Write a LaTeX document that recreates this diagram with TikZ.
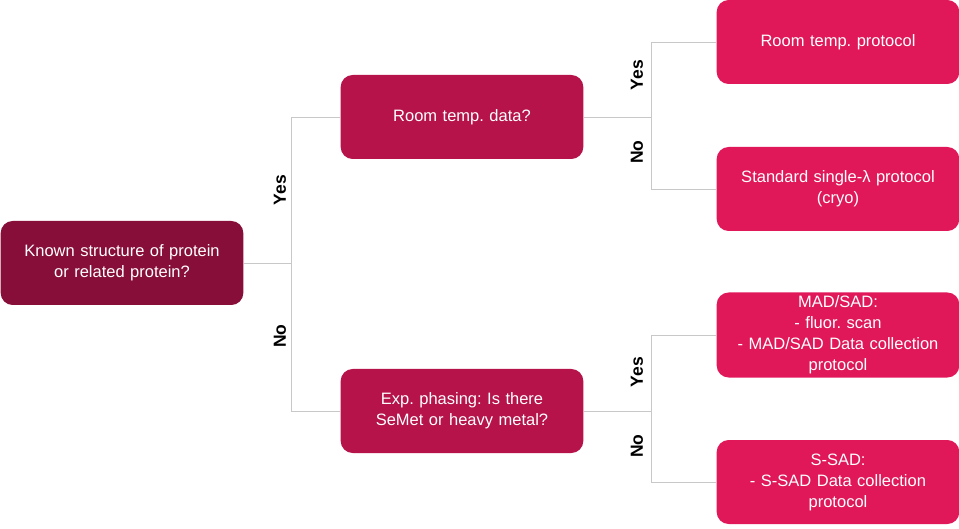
\documentclass[tikz,border=0pt]{standalone}
\usepackage{fontspec}
\setmainfont{Liberation Sans}
\usepackage{tikz}
\usetikzlibrary{positioning}
\frenchspacing

\definecolor{rootred}{HTML}{870E38}
\definecolor{midred}{HTML}{B5134A}
\definecolor{leafred}{HTML}{E0185A}
\definecolor{linegray}{HTML}{C8C8C8}

\tikzset{
    box/.style={rounded corners=12pt, minimum width=242pt, minimum height=84pt,
        text width=236pt, align=center, text=white, font=\fontsize{16.5}{21}\selectfont},
    link/.style={draw=linegray, line width=0.8pt},
    answer/.style={rotate=90, font=\bfseries\fontsize{17.5}{20}\selectfont}
}

\begin{document}
\begin{tikzpicture}[x=1pt, y=-1pt]
        \useasboundingbox (0,0) rectangle (959,529);

        \node[box, fill=rootred] (root) at (122,263) {Known structure of protein\\or related protein?};
        \node[box, fill=midred] (roomq) at (462,117) {Room temp. data?};
        \node[box, fill=midred] (phaseq) at (462,411) {Exp. phasing: Is there\\SeMet or heavy metal?};
        \node[box, fill=leafred] (roomp) at (838,42) {Room temp. protocol};
        \node[box, fill=leafred] (cryo) at (838,189) {Standard single-λ protocol\\(cryo)};
        \node[box, fill=leafred] (mad) at (838,335) {MAD/SAD:\\- fluor. scan\\- MAD/SAD Data collection\\protocol};
        \node[box, fill=leafred] (ssad) at (838,482) {S-SAD:\\- S-SAD Data collection\\protocol};

        \coordinate (split1) at (291,263);
        \coordinate (split2) at (651,117);
        \coordinate (split3) at (651,411);

        \draw[link] (root.east) -- (split1);
        \draw[link] (split1) |- (roomq.west);
        \draw[link] (split1) |- (phaseq.west);
        \draw[link] (roomq.east) -- (split2);
        \draw[link] (split2) |- (roomp.west);
        \draw[link] (split2) |- (cryo.west);
        \draw[link] (phaseq.east) -- (split3);
        \draw[link] (split3) |- (mad.west);
        \draw[link] (split3) |- (ssad.west);

        \node[answer] (yes1) at (280,190) {Yes};
        \node[answer] (no1) at (280,336) {No};
        \node[answer] (yes2) at (637,75) {Yes};
        \node[answer] (no2) at (637,152) {No};
        \node[answer] (yes3) at (637,372) {Yes};
        \node[answer] (no3) at (637,446) {No};
    \end{tikzpicture}
\end{document}
